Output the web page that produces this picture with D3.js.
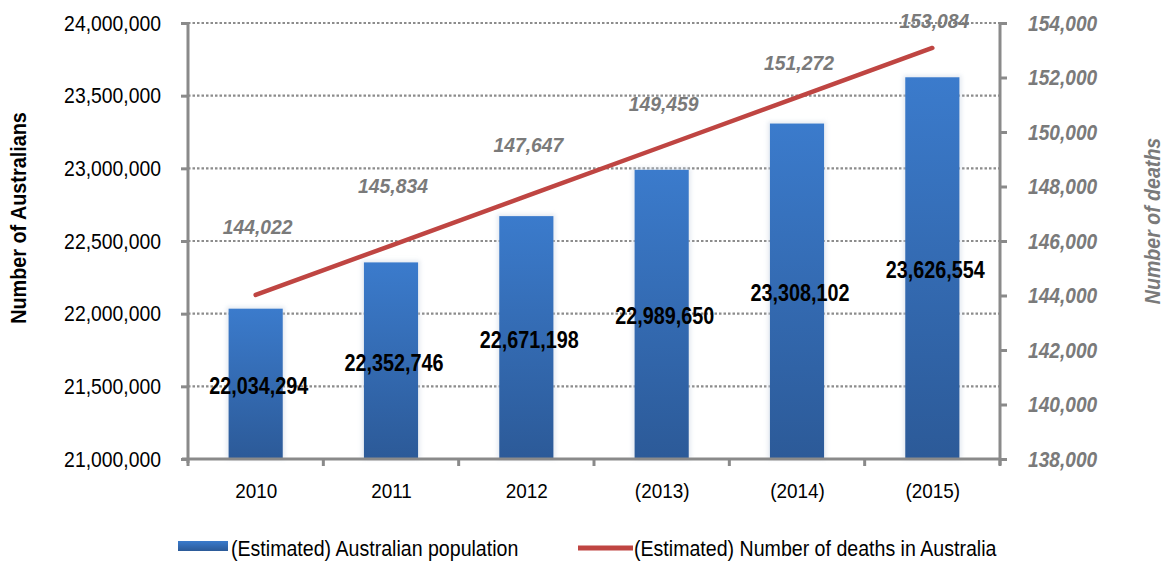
<!DOCTYPE html>
<html>
<head>
<meta charset="utf-8">
<script src="https://cdn.jsdelivr.net/npm/d3@7"></script>
<style>
  html, body { margin: 0; padding: 0; background: #fff; }
  svg { display: block; }
  text { font-family: 'Liberation Sans', Arial, sans-serif; }
</style>
</head>
<body>
<svg id="chart" width="1167" height="561"></svg>
<script>
// Australian population and deaths, 2010-2015
const years = ["2010", "2011", "2012", "(2013)", "(2014)", "(2015)"];
const population = [22034294, 22352746, 22671198, 22989650, 23308102, 23626554];
const deaths = [144022, 145834, 147647, 149459, 151272, 153084];
const popTicks = [21000000, 21500000, 22000000, 22500000, 23000000, 23500000, 24000000];
const deathTicks = [138000, 140000, 142000, 144000, 146000, 148000, 150000, 152000, 154000];
const legendLabels = ["(Estimated) Australian population", "(Estimated) Number of deaths in Australia"];

const svg = d3.select("#chart");
const m = { left: 188, right: 1000, top: 23, bottom: 459 };
const fmt = d3.format(",");

// narrow-looking type: compress glyphs horizontally
function squeeze(sel, k) {
  sel.each(function () {
    const L = this.getComputedTextLength();
    this.setAttribute("textLength", (L * k).toFixed(2));
    this.setAttribute("lengthAdjust", "spacingAndGlyphs");
  });
}

const x = d3.scaleBand().domain(years).range([m.left, m.right]).paddingInner(0.6).paddingOuter(0.3);
const xc = d3.scalePoint().domain(years).range([m.left, m.right]).padding(0.5);
const yL = d3.scaleLinear().domain([21000000, 24000000]).range([m.bottom, m.top]);
const yR = d3.scaleLinear().domain([138000, 154000]).range([m.bottom, m.top]);

// bar gradient
const defs = svg.append("defs");
const grad = defs.append("linearGradient").attr("id", "barGrad")
  .attr("x1", 0).attr("y1", 0).attr("x2", 0).attr("y2", 1);
grad.append("stop").attr("offset", "0%").attr("stop-color", "#3b7bcc");
grad.append("stop").attr("offset", "100%").attr("stop-color", "#2c5a98");
const lgrad = defs.append("linearGradient").attr("id", "legGrad")
  .attr("x1", 0).attr("y1", 0).attr("x2", 0).attr("y2", 1);
lgrad.append("stop").attr("offset", "0%").attr("stop-color", "#3b7bcc");
lgrad.append("stop").attr("offset", "100%").attr("stop-color", "#2c5a98");
const shadow = defs.append("filter").attr("id", "soft").attr("x", "-20%").attr("y", "-20%").attr("width", "140%").attr("height", "140%");
shadow.append("feGaussianBlur").attr("stdDeviation", 2);

// gridlines
svg.append("g").selectAll("line").data(popTicks.filter(d => d > 21000000))
  .join("line")
  .attr("x1", m.left).attr("x2", m.right)
  .attr("y1", d => yL(d)).attr("y2", d => yL(d))
  .attr("stroke", "#8c8c8c").attr("stroke-width", 2.2)
  .attr("stroke-dasharray", "2.5,2");

// bar halo
svg.append("g").selectAll("rect").data(population)
  .join("rect")
  .attr("x", (d, i) => x(years[i]) - 2)
  .attr("y", d => yL(d) - 2)
  .attr("width", x.bandwidth() + 4)
  .attr("height", d => m.bottom - yL(d) + 2)
  .attr("fill", "#c8d3e2").attr("opacity", 0.5).attr("filter", "url(#soft)");

// bars
svg.append("g").selectAll("rect").data(population)
  .join("rect")
  .attr("x", (d, i) => x(years[i]))
  .attr("y", d => yL(d))
  .attr("width", x.bandwidth())
  .attr("height", d => m.bottom - yL(d))
  .attr("fill", "url(#barGrad)");

// left axis
const axL = svg.append("g").attr("transform", `translate(${m.left},0)`)
  .call(d3.axisLeft(yL).tickValues(popTicks).tickFormat(fmt).tickSize(7).tickPadding(20));
axL.select(".domain").attr("stroke", "#8a8a8a").attr("stroke-width", 3)
  .attr("d", `M0,${m.top}V${m.bottom + 4}`);
axL.selectAll(".tick line").attr("stroke", "#8a8a8a").attr("stroke-width", 3);
axL.selectAll(".tick text").attr("fill", "#000").style("font-size", "22px");
squeeze(axL.selectAll(".tick text"), 0.88);

// right axis
const axR = svg.append("g").attr("transform", `translate(${m.right},0)`)
  .call(d3.axisRight(yR).tickValues(deathTicks).tickFormat(fmt).tickSize(7).tickPadding(21));
axR.select(".domain").attr("stroke", "#8a8a8a").attr("stroke-width", 3)
  .attr("d", `M0,${m.top}V${m.bottom + 6}`);
axR.selectAll(".tick line").attr("stroke", "#8a8a8a").attr("stroke-width", 3);
axR.selectAll(".tick text").attr("fill", "#7a7a7a")
  .style("font-size", "22px").style("font-style", "italic").style("font-weight", "bold");
squeeze(axR.selectAll(".tick text"), 0.87);

// bottom axis with ticks at category boundaries
const axB = svg.append("g").attr("transform", `translate(0,${m.bottom})`)
  .call(d3.axisBottom(xc).tickSize(0).tickPadding(24));
axB.select(".domain").attr("stroke", "#8a8a8a").attr("stroke-width", 3)
  .attr("d", `M${m.left - 6},0H${m.right}`);
axB.selectAll(".tick text").attr("fill", "#000").style("font-size", "21px");
squeeze(axB.selectAll(".tick text"), 0.9);
const step = (m.right - m.left) / years.length;
svg.append("g").selectAll("line").data(d3.range(years.length + 1))
  .join("line")
  .attr("x1", i => m.left + i * step).attr("x2", i => m.left + i * step)
  .attr("y1", m.bottom).attr("y2", m.bottom + 7)
  .attr("stroke", "#8a8a8a").attr("stroke-width", 3);

// deaths line
svg.append("path")
  .datum(deaths)
  .attr("d", d3.line().x((d, i) => xc(years[i])).y(d => yR(d)))
  .attr("fill", "none").attr("stroke", "#bf4542").attr("stroke-width", 4.5)
  .attr("stroke-linecap", "round");

// deaths labels
const dl = svg.append("g").selectAll("text").data(deaths)
  .join("text")
  .attr("x", (d, i) => xc(years[i]) + 2)
  .attr("y", (d, i) => yR(d) - (68 - 8.2 * i))
  .attr("text-anchor", "middle").attr("dominant-baseline", "central")
  .attr("fill", "#7a7a7a")
  .style("font-size", "21px").style("font-style", "italic").style("font-weight", "bold")
  .text(d => fmt(d));
squeeze(dl, 0.92);

// population labels at the middle of each bar
const pl = svg.append("g").selectAll("text").data(population)
  .join("text")
  .attr("x", (d, i) => xc(years[i]) + 3)
  .attr("y", d => (yL(d) + m.bottom) / 2 + 2)
  .attr("text-anchor", "middle").attr("dominant-baseline", "central")
  .attr("fill", "#000")
  .style("font-size", "23px").style("font-weight", "bold")
  .text(d => fmt(d));
squeeze(pl, 0.86);

// axis titles
const tL = svg.append("text")
  .attr("transform", "translate(18,218) rotate(-90)")
  .attr("text-anchor", "middle").attr("dominant-baseline", "central")
  .attr("fill", "#000").style("font-size", "22px").style("font-weight", "bold")
  .text("Number of Australians");
squeeze(tL, 0.9);
const tR = svg.append("text")
  .attr("transform", "translate(1152,221) rotate(-90)")
  .attr("text-anchor", "middle").attr("dominant-baseline", "central")
  .attr("fill", "#7a7a7a").style("font-size", "22px").style("font-weight", "bold").style("font-style", "italic")
  .text("Number of deaths");
squeeze(tR, 0.89);

// legend
const leg = svg.append("g");
leg.append("rect").attr("x", 178).attr("y", 541).attr("width", 50).attr("height", 10).attr("fill", "url(#legGrad)");
const lt1 = leg.append("text").attr("x", 231).attr("y", 548).attr("dominant-baseline", "central")
  .attr("fill", "#000").style("font-size", "22px").text(legendLabels[0]);
leg.append("line").attr("x1", 578).attr("x2", 633).attr("y1", 548).attr("y2", 548)
  .attr("stroke", "#bf4542").attr("stroke-width", 5);
const lt2 = leg.append("text").attr("x", 634).attr("y", 548).attr("dominant-baseline", "central")
  .attr("fill", "#000").style("font-size", "22px").text(legendLabels[1]);
squeeze(lt1, 0.89);
squeeze(lt2, 0.89);
</script>
</body>
</html>
